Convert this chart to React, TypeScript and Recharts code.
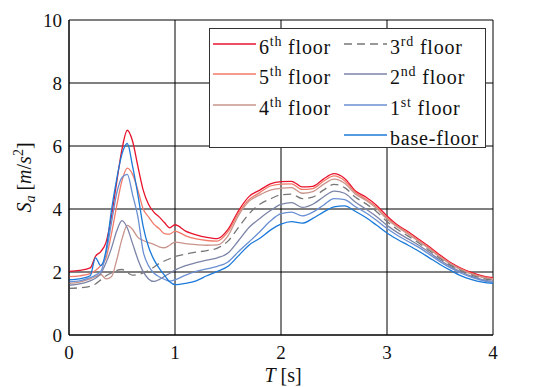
import React from 'react';
import {
  LineChart, Line, XAxis, YAxis, CartesianGrid, Legend
} from 'recharts';

// period T [s]
const periods = [
  0, 0.1, 0.2, 0.25, 0.3, 0.35, 0.4, 0.45, 0.5, 0.55, 0.6, 0.65, 0.7, 0.75, 0.8, 0.85, 0.9, 0.95,
  1.0, 1.1, 1.2, 1.3, 1.4, 1.5, 1.6, 1.7, 1.8, 1.9, 2.0, 2.1, 2.2, 2.3, 2.4, 2.5, 2.6, 2.7, 2.8, 2.9,
  3.0, 3.1, 3.2, 3.3, 3.4, 3.5, 3.6, 3.7, 3.8, 3.9, 4.0,
];

// spectral acceleration Sa [m/s^2] per floor
const floor6 = [
  2.02, 2.05, 2.13, 2.5, 2.65, 2.95, 3.75, 4.85, 5.9, 6.5, 6.15, 5.35, 4.6, 4.15, 3.9, 3.75, 3.57, 3.4,
  3.5, 3.3, 3.18, 3.1, 3.06, 3.35, 3.95, 4.4, 4.6, 4.8, 4.87, 4.88, 4.7, 4.72, 4.95, 5.12, 4.97, 4.58, 4.38, 4.12,
  3.78, 3.49, 3.28, 3.04, 2.8, 2.54, 2.3, 2.12, 1.98, 1.88, 1.82,
];
const floor5 = [
  1.85, 1.88, 1.95, 2.05, 2.2, 2.45, 3.2, 4.1, 4.9, 5.3, 5.1, 4.6, 4.0, 3.75, 3.52, 3.38, 3.22, 3.2,
  3.3, 3.15, 3.05, 3.0, 2.98, 3.28, 3.88, 4.3, 4.52, 4.73, 4.79, 4.8, 4.62, 4.65, 4.88, 5.05, 4.9, 4.53, 4.32, 4.06,
  3.72, 3.45, 3.24, 3.0, 2.76, 2.5, 2.27, 2.09, 1.95, 1.85, 1.79,
];
const floor4 = [
  1.64, 1.68, 1.78, 1.85, 1.92, 1.78, 1.85, 2.38, 3.05, 3.48, 3.35, 3.1, 3.0, 2.93, 2.88, 2.8, 2.77, 2.85,
  2.95, 2.9, 2.87, 2.85, 2.86, 3.15, 3.8, 4.25, 4.45, 4.6, 4.66, 4.68, 4.5, 4.55, 4.78, 4.95, 4.82, 4.48, 4.28, 4.02,
  3.68, 3.42, 3.2, 2.97, 2.73, 2.47, 2.25, 2.07, 1.93, 1.83, 1.77,
];
const floor3 = [
  1.48, 1.5, 1.55, 1.62, 1.75, 1.88, 1.97, 2.05, 2.08, 1.98, 1.9, 1.92, 1.97, 2.05, 2.15, 2.27, 2.35, 2.42,
  2.49, 2.57, 2.63, 2.68, 2.76, 2.98, 3.42, 3.85, 4.15, 4.32, 4.45, 4.47, 4.33, 4.38, 4.6, 4.78, 4.68, 4.38, 4.17, 3.92,
  3.6, 3.35, 3.14, 2.92, 2.68, 2.43, 2.21, 2.04, 1.9, 1.8, 1.74,
];
const floor2 = [
  1.58, 1.62, 1.72, 1.8, 1.95, 2.3, 2.75, 3.3, 3.63, 3.4, 2.9, 2.4, 2.01, 1.78, 1.7, 1.76, 1.86, 1.96,
  2.06, 2.2, 2.3, 2.38, 2.45, 2.6, 3.0, 3.42, 3.7, 3.95, 4.15, 4.2, 4.05, 4.15, 4.38, 4.57, 4.5, 4.22, 4.0, 3.76,
  3.48, 3.25, 3.05, 2.85, 2.62, 2.38, 2.17, 2.0, 1.86, 1.76, 1.7,
];
const floor1 = [
  1.69, 1.72, 1.82, 1.9, 2.02, 2.6, 3.55, 4.5, 5.0, 5.1, 4.45, 3.75, 2.65, 2.2, 1.97, 1.85, 1.77, 1.71,
  1.75, 1.9, 2.02, 2.1, 2.18, 2.32, 2.65, 2.96, 3.28, 3.62, 3.85, 3.9, 3.78, 3.9, 4.12, 4.33, 4.3, 4.08, 3.88, 3.64,
  3.38, 3.16, 2.97, 2.78, 2.56, 2.33, 2.13, 1.96, 1.83, 1.73, 1.67,
];
const baseFloor = [
  1.75, 1.78, 1.88, 2.45, 2.2, 2.7, 3.95, 4.95, 5.75, 6.08, 5.35, 4.45, 3.44, 2.8, 2.4, 2.12, 1.9, 1.69,
  1.6, 1.64, 1.72, 1.88, 2.02, 2.18, 2.52, 2.86, 3.07, 3.33, 3.52, 3.6, 3.55, 3.7, 3.9, 4.07, 4.1, 3.93, 3.73, 3.49,
  3.24, 3.03, 2.85, 2.66, 2.45, 2.24, 2.05, 1.88, 1.76, 1.68, 1.64,
];

const xTicks = [0, 1, 2, 3, 4];
const yTicks = [0, 2, 4, 6, 8, 10];

const FONT = 'Liberation Serif, Times New Roman, serif';
const textStyle = { fontFamily: FONT };

const series = [
  { key: 'f6', ord: '6', sup: 'th', name: 'floor', color: '#e8132d', dash: undefined, col: 0, row: 0 },
  { key: 'f5', ord: '5', sup: 'th', name: 'floor', color: '#f27a6a', dash: undefined, col: 0, row: 1 },
  { key: 'f4', ord: '4', sup: 'th', name: 'floor', color: '#c9948c', dash: undefined, col: 0, row: 2 },
  { key: 'f3', ord: '3', sup: 'rd', name: 'floor', color: '#777777', dash: '8 5', col: 1, row: 0 },
  { key: 'f2', ord: '2', sup: 'nd', name: 'floor', color: '#7c84a8', dash: undefined, col: 1, row: 1 },
  { key: 'f1', ord: '1', sup: 'st', name: 'floor', color: '#6a8fd2', dash: undefined, col: 1, row: 2 },
  { key: 'fb', ord: '', sup: '', name: 'base-floor', color: '#1b7ad9', dash: undefined, col: 1, row: 3 },
];

const data = periods.map((t, i) => ({
  t,
  f6: floor6[i],
  f5: floor5[i],
  f4: floor4[i],
  f3: floor3[i],
  f2: floor2[i],
  f1: floor1[i],
  fb: baseFloor[i],
}));

const LegendBox = () => {
  const rowY = [15, 45, 76, 106];
  const colX = [3, 134];
  return (
    <svg width={277} height={120} style={{ display: 'block', background: '#fff', border: '1px solid #333', boxSizing: 'border-box' }}>
      {series.map((s) => {
        const y = rowY[s.row];
        const x = colX[s.col];
        return (
          <g key={s.key}>
            <line x1={x} x2={x + 43} y1={y} y2={y} stroke={s.color} strokeWidth={1.3} strokeDasharray={s.dash} />
            <text x={x + 46} y={y + 10} style={textStyle} fontSize={20} letterSpacing={0.8} fill="#111">
              {s.ord}
              {s.sup && <tspan fontSize={14} dy={-8}>{s.sup}</tspan>}
              {s.sup ? <tspan dy={8}>{' ' + s.name}</tspan> : s.name}
            </text>
          </g>
        );
      })}
    </svg>
  );
};

const YLabel = ({ viewBox }: any) => {
  const cx = viewBox.x + 31;
  const cy = viewBox.y + viewBox.height / 2;
  return (
    <text x={cx} y={cy} transform={`rotate(-90 ${cx} ${cy})`} textAnchor="middle" style={textStyle} fontSize={20} fill="#111">
      <tspan fontStyle="italic">S</tspan>
      <tspan fontStyle="italic" fontSize={14} dy={4}>a</tspan>
      <tspan dy={-4}>{' ['}</tspan>
      <tspan fontStyle="italic">m</tspan>
      <tspan>/</tspan>
      <tspan fontStyle="italic">s</tspan>
      <tspan fontSize={14} dy={-8}>2</tspan>
      <tspan dy={8}>]</tspan>
    </text>
  );
};

const XLabel = ({ viewBox }: any) => {
  const cx = viewBox.x + viewBox.width / 2 + 2;
  const y = viewBox.y + 47;
  return (
    <text x={cx} y={y} textAnchor="middle" style={textStyle} fontSize={20} fill="#111">
      <tspan fontStyle="italic">T</tspan>
      <tspan>{' [s]'}</tspan>
    </text>
  );
};

const tickStyle = { fill: '#111', fontSize: 19, fontFamily: FONT, style: textStyle };

export default function App() {
  return (
    <div style={{ position: 'absolute', left: 0, top: 0, background: '#fff', fontFamily: FONT }}>
      <LineChart width={535} height={387} data={data} margin={{ top: 20, right: 42, left: 0, bottom: 0 }} style={textStyle}>
        <CartesianGrid stroke="#000" strokeWidth={1} />
        <XAxis
          dataKey="t"
          type="number"
          domain={[0, 4]}
          ticks={xTicks}
          height={52}
          tickLine={false}
          tickSize={0}
          tickMargin={11}
          axisLine={{ stroke: '#000' }}
          tick={tickStyle}
          label={<XLabel />}
        />
        <YAxis
          type="number"
          domain={[0, 10]}
          ticks={yTicks}
          width={69}
          tickLine={false}
          tickSize={0}
          tickMargin={7}
          axisLine={{ stroke: '#000' }}
          tick={tickStyle}
          label={<YLabel />}
        />
        {series.map((s) => (
          <Line
            key={s.key}
            type="monotone"
            dataKey={s.key}
            stroke={s.color}
            strokeWidth={1.3}
            strokeDasharray={s.dash}
            dot={false}
            activeDot={false}
            isAnimationActive={false}
          />
        ))}
        <Legend
          layout="vertical"
          align="center"
          verticalAlign="middle"
          content={<LegendBox />}
          wrapperStyle={{ left: 209, top: 28, width: 277, height: 120 }}
        />
      </LineChart>
    </div>
  );
}
